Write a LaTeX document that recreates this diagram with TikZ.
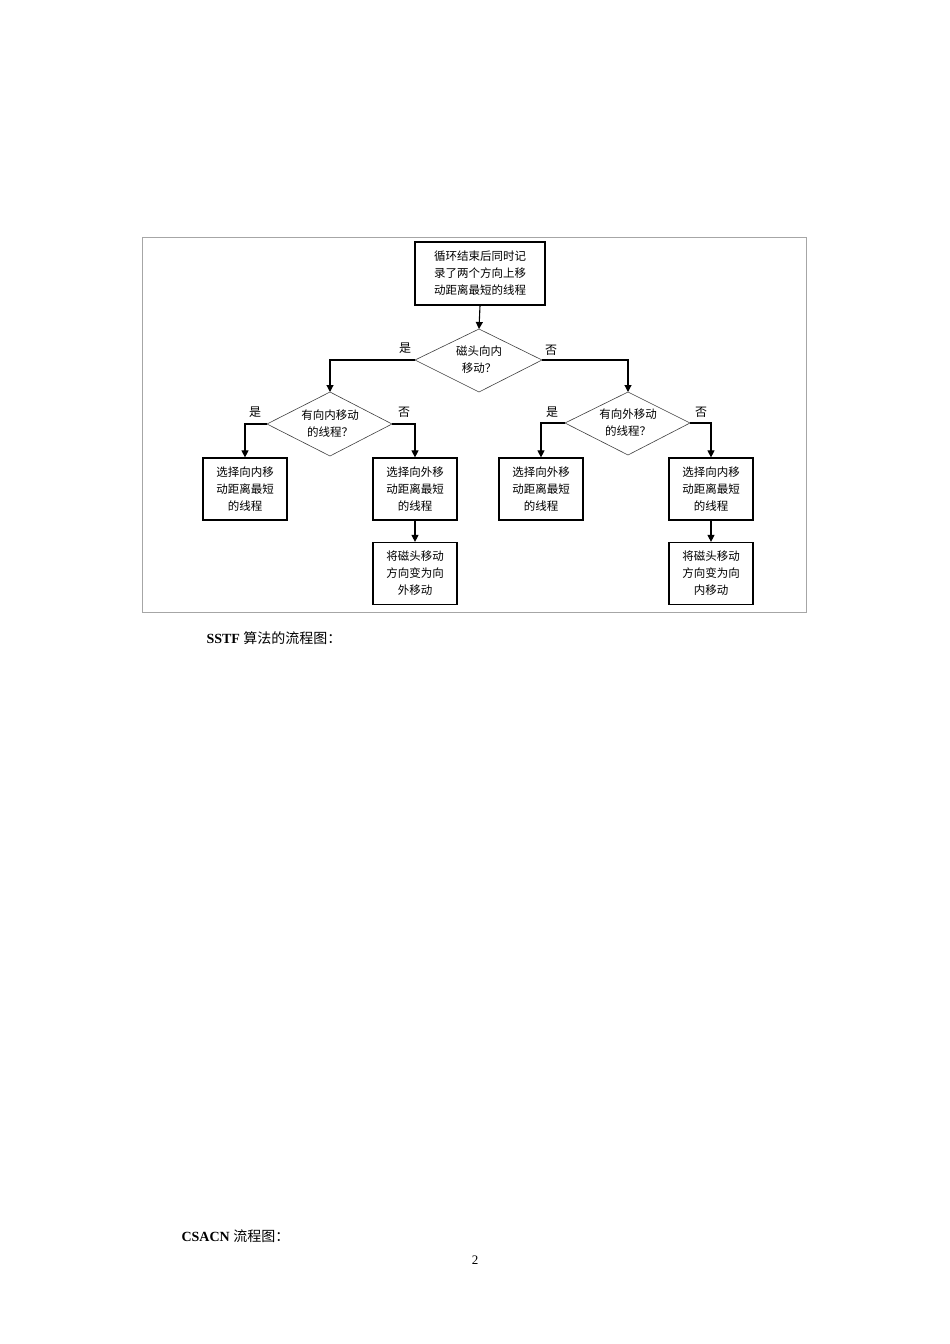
\documentclass[tikz,border=0pt]{standalone}
\usepackage{fontspec}
\setmainfont{Liberation Serif}
\newfontfamily\cjk{Noto Sans CJK SC}
\usetikzlibrary{arrows.meta}
\begin{document}
\begin{tikzpicture}[x=1pt,y=-1pt,
  box/.style={draw,line width=1.2pt,minimum width=84pt,minimum height=62pt,align=center,inner sep=0pt,font=\cjk\fontsize{11.5}{17}\selectfont},
  dia/.style={draw=black!75,line width=0.6pt},
  dtext/.style={align=center,font=\cjk\fontsize{11.5}{17}\selectfont},
  lab/.style={font=\cjk\fontsize{12}{14}\selectfont},
  arr/.style={line width=1.1pt,-{Triangle[length=7pt,width=7pt]}}]
\useasboundingbox (0,0) rectangle (950,1344);
\fill[white] (0,0) rectangle (950,1344);
\draw[black!35,line width=0.8pt] (142,237) rectangle (806,612);
% top box
\node[box,minimum width=130pt,minimum height=63pt] (top) at (480,273.5) {循环结束后同时记\\录了两个方向上移\\动距离最短的线程};
% diamonds
\draw[dia] (479,329) coordinate (d1t) -- (542,360) coordinate (d1r) -- (479,392) -- (415,360) coordinate (d1l) -- cycle;
\node[dtext] (d1) at (479,360) {磁头向内\\移动？};
\draw[dia] (330,392) coordinate (d2t) -- (392,424) coordinate (d2r) -- (330,456) -- (267,424) coordinate (d2l) -- cycle;
\node[dtext] (d2) at (330,424) {有向内移动\\的线程？};
\draw[dia] (628,392) coordinate (d3t) -- (690,423) coordinate (d3r) -- (628,455) -- (565,423) coordinate (d3l) -- cycle;
\node[dtext] (d3) at (628,423) {有向外移动\\的线程？};
% boxes
\node[box] (b1) at (245,489) {选择向内移\\动距离最短\\的线程};
\node[box] (b2) at (415,489) {选择向外移\\动距离最短\\的线程};
\node[box] (b3) at (415,573.5) {将磁头移动\\方向变为向\\外移动};
\node[box] (b4) at (541,489) {选择向外移\\动距离最短\\的线程};
\node[box] (b5) at (711,489) {选择向内移\\动距离最短\\的线程};
\node[box] (b6) at (711,573.5) {将磁头移动\\方向变为向\\内移动};
% connectors
\draw[arr] (top.south) -- (d1t);
\draw[arr] (d1l) -| (d2t);
\draw[arr] (d1r) -| (d3t);
\draw[arr] (d2l) -| (b1.north);
\draw[arr] (d2r) -| (b2.north);
\draw[arr] (b2.south) -- (b3.north);
\draw[arr] (d3l) -| (b4.north);
\draw[arr] (d3r) -| (b5.north);
\draw[arr] (b5.south) -- (b6.north);
% labels
\node[lab] (l1) at (405,348) {是};
\node[lab] (l2) at (551,350) {否};
\node[lab] (l3) at (255,412) {是};
\node[lab] (l4) at (404,412) {否};
\node[lab] (l5) at (552,412) {是};
\node[lab] (l6) at (701,412) {否};
% page text
\node[anchor=west,font=\fontsize{14}{16}\selectfont] (c1) at (203,638) {\textbf{SSTF} {\cjk 算法的流程图：}};
\node[anchor=west,font=\fontsize{14}{16}\selectfont] (c2) at (178,1236) {\textbf{CSACN} {\cjk 流程图：}};
\node[font=\fontsize{13}{15}\selectfont] (pg) at (475,1260) {2};
\end{tikzpicture}
\end{document}
